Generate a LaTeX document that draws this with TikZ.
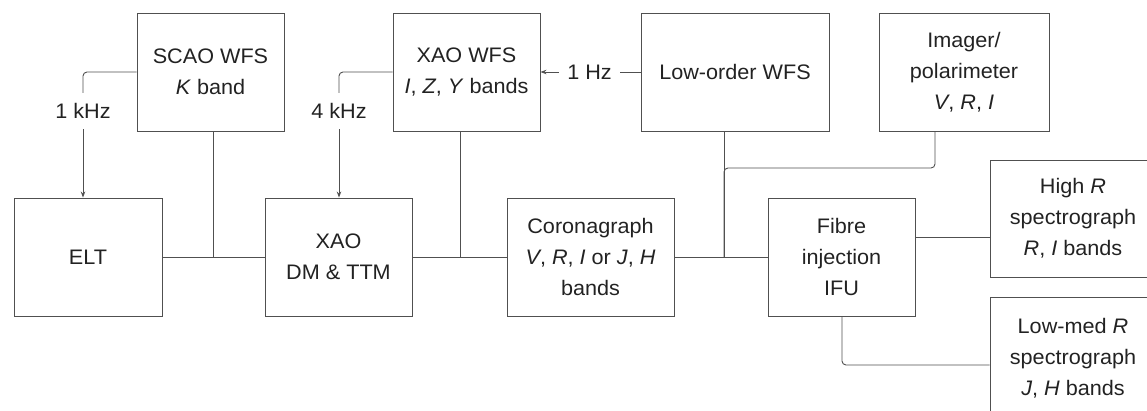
\documentclass[tikz,border=0pt]{standalone}
\usepackage{fontspec}
\setmainfont{Liberation Sans}[FakeStretch=1.03]
\usetikzlibrary{arrows.meta}
\definecolor{ln}{HTML}{505050}
\definecolor{tx}{HTML}{222222}
\begin{document}
\begin{tikzpicture}[x=1pt,y=-1pt,
  box/.style={draw=ln, line width=0.9pt, align=center, inner sep=0pt, text=tx,
    font=\fontsize{21}{31}\selectfont},
  lab/.style={inner sep=0pt, text=tx, font=\fontsize{21}{25}\selectfont},
  conn/.style={draw=ln, line width=0.9pt},
  arr/.style={conn, -{Stealth[length=6pt,width=4.5pt]}},
]
\useasboundingbox (0,0) rectangle (1147,410);
\clip (0,0) rectangle (1147,410);

\node[box, minimum width=147pt, minimum height=118pt] (scao) at (210.5,72) {SCAO WFS\\\textit{K} band};
\node[box, minimum width=147pt, minimum height=118pt] (xaowfs) at (466.5,72) {XAO WFS\\\textit{I}, \textit{Z}, \textit{Y} bands};
\node[box, minimum width=188pt, minimum height=118pt] (low) at (735,72) {Low-order WFS};
\node[box, minimum width=170pt, minimum height=118pt] (imager) at (964,72) {Imager/\\polarimeter\\\textit{V}, \textit{R}, \textit{I}};
\node[box, minimum width=148pt, minimum height=118pt] (elt) at (88,257) {ELT};
\node[box, minimum width=147pt, minimum height=118pt] (xaodm) at (338.5,257) {XAO\\DM \& TTM};
\node[box, minimum width=167pt, minimum height=118pt] (coro) at (590.5,257) {Coronagraph\\\textit{V}, \textit{R}, \textit{I} or \textit{J}, \textit{H}\\bands};
\node[box, minimum width=147pt, minimum height=118pt] (fibre) at (841.5,257) {Fibre\\injection\\IFU};
\node[box, minimum width=166pt, minimum height=117pt] (highr) at (1073,218.5) {High \textit{R}\\spectrograph\\\textit{R}, \textit{I} bands};
\node[box, minimum width=166pt, minimum height=122pt] (lowmed) at (1073,358) {Low-med \textit{R}\\spectrograph\\\textit{J}, \textit{H} bands};

\node[lab, minimum height=36pt] (l1) at (83,111) {1 kHz};
\node[lab, minimum height=36pt] (l4) at (339,111) {4 kHz};
\node[lab, minimum width=61pt] (lh) at (589.5,72) {1 Hz};

% feedback loops
\draw[conn, rounded corners=4pt] (scao.west) -| (l1.north);
\draw[arr] (l1.south) -- (l1.south |- elt.north);
\draw[conn, rounded corners=4pt] (xaowfs.west) -| (l4.north);
\draw[arr] (l4.south) -- (l4.south |- xaodm.north);
\draw[conn] (low.west) -- (lh.east);
\draw[arr] (lh.west) -- (xaowfs.east);

% main optical path
\draw[conn] (elt.east) -- (xaodm.west);
\draw[conn] (xaodm.east) -- (coro.west);
\draw[conn] (coro.east) -- (fibre.west);

\coordinate (st) at ([xshift=2.5pt]scao.south);
\draw[conn] (st) -- (st |- elt.east);
\coordinate (xt) at ([xshift=-6.5pt]xaowfs.south);
\draw[conn] (xt) -- (xt |- xaodm.east);
\coordinate (lowt) at ([xshift=-11pt]low.south);
\coordinate (lowj) at (lowt |- coro.east);
\draw[conn] (lowt) -- (lowj);
\coordinate (ib) at ([xshift=-29pt]imager.south);
\coordinate (ih) at (0,168);
\draw[conn, rounded corners=4pt] (ib) |- (lowt |- ih) -- (lowj);

% spectrographs
\coordinate (fe) at ([yshift=20pt]fibre.east);
\draw[conn] (fe) -- (fe -| highr.west);
\draw[conn, rounded corners=4pt] ([xshift=0.5pt]fibre.south) |- ([yshift=-7pt]lowmed.west);
\end{tikzpicture}
\end{document}
